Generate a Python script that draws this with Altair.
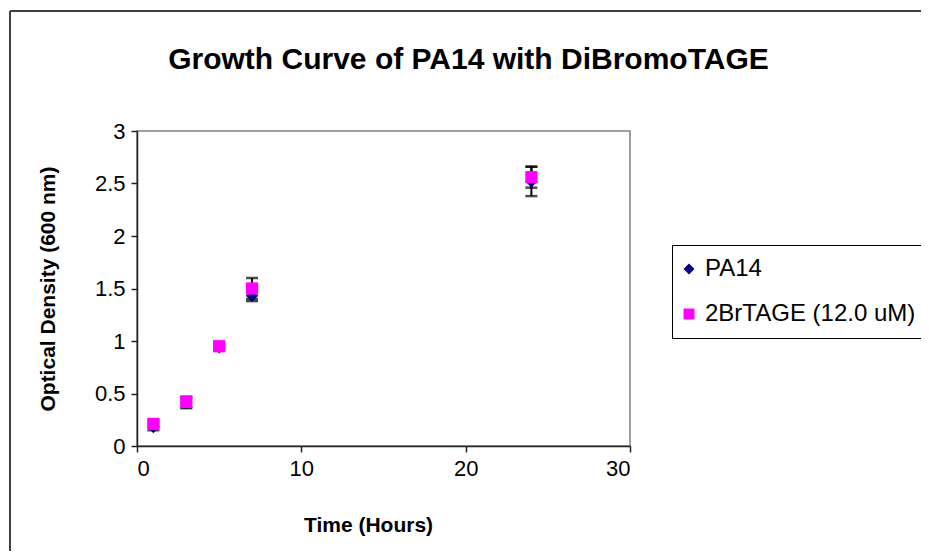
import altair as alt
import pandas as pd

# ---- data ----
time_h = [1, 3, 5, 7, 24]
series_names = ["PA14", "2BrTAGE (12.0 uM)"]
pa14_od = [0.18, 0.41, 0.94, 1.43, 2.52]
pa14_err = [0.03, 0.05, 0.02, 0.05, 0.14]
br_od = [0.21, 0.42, 0.95, 1.50, 2.56]
br_err = [0.03, 0.05, 0.02, 0.10, 0.10]

x_ticks = [0, 10, 20, 30]
y_ticks = [0, 0.5, 1, 1.5, 2, 2.5, 3]

rows = []
for name, vals, errs in [(series_names[0], pa14_od, pa14_err),
                         (series_names[1], br_od, br_err)]:
    for t, v, e in zip(time_h, vals, errs):
        rows.append({"time": t, "od": v, "lo": v - e, "hi": v + e, "series": name})
df = pd.DataFrame(rows)

W, H = 493, 315
FONT = "Liberation Sans"

x_enc = alt.X("time:Q", scale=alt.Scale(domain=[0, 30], nice=False),
              axis=alt.Axis(values=x_ticks, title="Time (Hours)",
                            titleX=231, titleY=79, titleBaseline="middle",
                            titleAlign="center"))
y_axis = alt.Axis(values=y_ticks, format="~g", title="Optical Density (600 nm)",
                  titleX=-89, titleY=H / 2, titleBaseline="middle",
                  titleAlign="center", titleAngle=-90)
y_scale = alt.Scale(domain=[0, 3], nice=False)

base = alt.Chart(df)

bars = base.mark_rule(color="black", strokeWidth=2).encode(
    x=x_enc,
    y=alt.Y("lo:Q", scale=y_scale, axis=y_axis),
    y2="hi:Q",
)
caps_lo = base.mark_tick(color="black", orient="horizontal", size=12, thickness=2.5).encode(
    x="time:Q", y=alt.Y("lo:Q", scale=y_scale)
)
caps_hi = base.mark_tick(color="black", orient="horizontal", size=12, thickness=2.5).encode(
    x="time:Q", y=alt.Y("hi:Q", scale=y_scale)
)

points = base.mark_point(filled=True, opacity=1, size=150).encode(
    x="time:Q",
    y=alt.Y("od:Q", scale=y_scale),
    color=alt.Color("series:N",
                    scale=alt.Scale(domain=series_names, range=["#000080", "#FF00FF"]),
                    legend=alt.Legend(title=None, orient="none", legendX=535, legendY=114,
                                      strokeColor="black", fillColor="white",
                                      padding=12, rowPadding=21, labelOffset=4,
                                      symbolOffset=-7,
                                      labelFont=FONT, labelFontSize=24, labelColor="black",
                                      labelLimit=400,
                                      symbolSize=120, symbolStrokeWidth=0)),
    shape=alt.Shape("series:N",
                    scale=alt.Scale(domain=series_names, range=["diamond", "square"])),
)

# outer chart frame (decorative, only top and left edges visible in reference)
frame_left = alt.Chart(df).mark_rule(color="#404040", strokeWidth=2).encode(
    x=alt.value(-127), y=alt.value(-120), y2=alt.value(420)
)
frame_top = alt.Chart(df).mark_rule(color="#404040", strokeWidth=2).encode(
    x=alt.value(-127), x2=alt.value(800), y=alt.value(-120)
)

chart = alt.layer(frame_left, frame_top, bars, caps_lo, caps_hi, points).properties(
    width=W, height=H,
    title=alt.TitleParams("Growth Curve of PA14 with DiBromoTAGE", font=FONT,
                          fontSize=30, fontWeight="bold", color="black",
                          anchor="middle", frame="group", dx=85, offset=-65),
    autosize=alt.AutoSizeParams(type="none"),
    padding={"left": 129, "top": 123, "right": 913 - 129 - W, "bottom": 544 - 123 - H},
).configure_view(
    stroke="#808080", strokeWidth=1.5
).configure_axis(
    grid=False, domainColor="#222", domainWidth=1.5, tickColor="#222", tickWidth=1.5,
    tickSize=6, labelFont=FONT, labelFontSize=22, labelColor="black", labelPadding=6,
    titleFont=FONT, titleFontSize=21, titleFontWeight="bold", titleColor="black",
)

chart.save("out.html", embed_options={"renderer": "svg", "actions": False})
